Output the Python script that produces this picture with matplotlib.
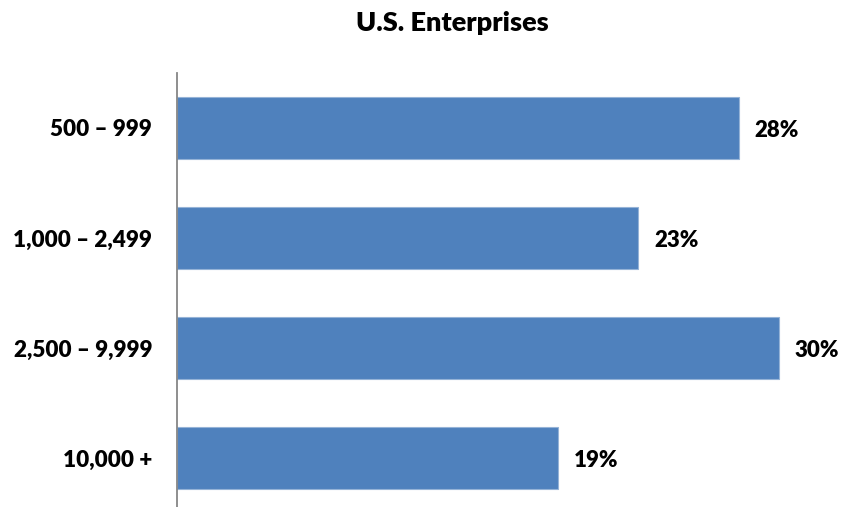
import matplotlib
matplotlib.use('Agg')
import matplotlib.pyplot as plt

# 企业规模分布
categories = ['500 – 999', '1,000 – 2,499', '2,500 – 9,999', '10,000 +']
shares = [28, 23, 30, 19]
value_labels = ['28%', '23%', '30%', '19%']

plt.rcParams['font.family'] = ['Lato', 'DejaVu Sans']

W, H = 843, 507
fig = plt.figure(figsize=(W / 100, H / 100), dpi=100)
# 坐标区（像素换算）
ax = fig.add_axes([177 / W, (H - 513) / H, 662 / W, 440 / H])

ypos = list(range(len(categories)))
ax.barh(ypos, shares, height=0.565, color='#4F81BD', edgecolor='#95B3D7', linewidth=0.8)
ax.set_xlim(0, 33)
ax.set_ylim(len(categories) - 0.5, -0.5)

for y, v, t in zip(ypos, shares, value_labels):
    ax.text(v + 0.8, y + 0.02, t, va='center', ha='left', fontsize=16, fontweight='heavy')

ax.set_yticks(ypos)
ax.set_yticklabels(categories, fontsize=16.2, fontweight='heavy')
ax.tick_params(axis='y', length=0, pad=18)
ax.set_xticks([])
for s in ['top', 'right', 'bottom']:
    ax.spines[s].set_visible(False)
ax.spines['left'].set_color('#868686')
ax.spines['left'].set_linewidth(1.3)

fig.text(452 / W, 1 - 23 / H, 'U.S. Enterprises', ha='center', va='center',
         fontsize=19.5, fontweight='heavy')

fig.savefig('out.png', dpi=100)
